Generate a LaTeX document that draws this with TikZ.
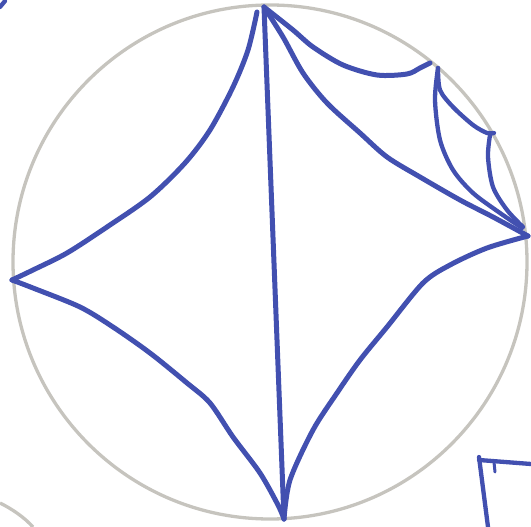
\documentclass[tikz,border=0pt]{standalone}
\definecolor{inkblue}{RGB}{66,80,176}
\definecolor{diskgray}{RGB}{198,196,190}
\tikzset{
  geod/.style={draw=inkblue,line width=5pt,line cap=round,line join=round},
  thin geod/.style={draw=inkblue,line width=4.3pt,line cap=round,line join=round},
  rim/.style={draw=diskgray,line width=3.3pt}
}
\begin{document}
\begin{tikzpicture}[x=1pt,y=-1pt]
\useasboundingbox (0,0) rectangle (531,527);
% disk
\coordinate (O) at (270,262);
\draw[rim] (O) circle (257);
\draw[rim] (0,503) .. controls (12,509) and (24,517) .. (33,527);
% ideal vertices
\coordinate (T) at (264,7);
\coordinate (L) at (12,280);
\coordinate (B) at (284,519);
\coordinate (R) at (528,236);
\coordinate (X1) at (430,63);
\coordinate (X1b) at (438,68);
\coordinate (X2) at (494,133);
% diagonal
\draw[geod] (T) -- (B);
% T to L
\draw[geod] plot[smooth,tension=0.5] coordinates {(257,12) (248,50) (233,87) (210,130) (185,163) (150,197) (107,227) (67,253) (33,270) (L)};
% L to B
\draw[geod] plot[smooth,tension=0.5] coordinates {(L) (33,288) (80,307) (113,327) (150,353) (187,383) (210,403) (233,437) (260,473) (278,505) (B)};
% B to R
\draw[geod] plot[smooth,tension=0.5] coordinates {(B) (290,480) (313,430) (337,393) (360,360) (387,327) (423,283) (450,265) (487,248) (R)};
% T to R
\draw[geod] plot[smooth,tension=0.5] coordinates {(T) (283,37) (303,73) (327,103) (360,133) (387,157) (420,177) (460,200) (493,217) (R)};
% T to X1
\draw[geod] plot[smooth,tension=0.5] coordinates {(T) (293,30) (313,47) (343,65) (377,75) (407,74) (420,68) (X1)};
% X1 to R
\draw[thin geod] plot[smooth,tension=0.5] coordinates {(X1b) (435,100) (440,140) (453,170) (473,193) (500,213) (522,228)};
% X1 to X2
\draw[thin geod] plot[smooth,tension=0.5] coordinates {(X1b) (440,90) (453,107) (473,125) (487,133) (X2)};
% X2 to R
\draw[thin geod] plot[smooth,tension=0.5] coordinates {(490,135) (488,157) (493,187) (507,210) (523,227)};
% corner fragments
\draw[thin geod] (0,7) -- (5,1);
\draw[thin geod] (479,457) -- (488,527);
\draw[thin geod] (479,460) -- (531,464);
\draw[draw=inkblue,line width=3pt,line cap=round] (494,462) -- (495,472);
\end{tikzpicture}
\end{document}
